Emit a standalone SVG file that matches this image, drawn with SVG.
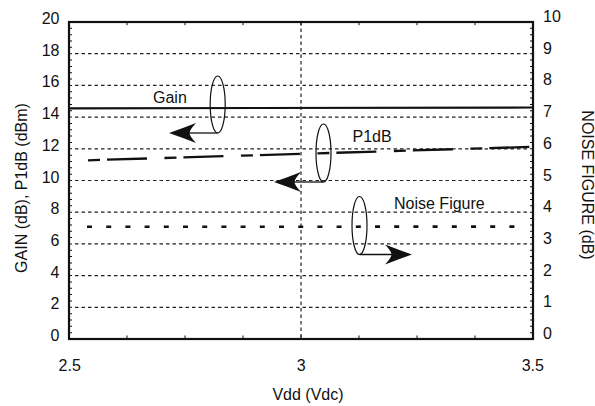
<svg xmlns="http://www.w3.org/2000/svg" width="595" height="406" viewBox="0 0 595 406">
<defs>
<style>
text{font-family:"Liberation Sans",Arial,Helvetica,sans-serif;font-size:16px;fill:#111}
.grid{stroke:#222;stroke-width:1.2;stroke-dasharray:3.5 3;fill:none}
.axis{stroke:#111;stroke-width:2.2;fill:none}
.tick{stroke:#111;stroke-width:3;fill:none}
.htick{stroke:#111;stroke-width:3.5;fill:none}
.ell{stroke:#111;stroke-width:1.2;fill:none}
.lead{stroke:#111;stroke-width:1.3;fill:none}
.l{text-anchor:end}
.m{text-anchor:middle}
</style>
<path id="arr" d="M0,0 Q13,-4.5 27,-10 Q20.5,-3 20.5,0 Q20.5,3 27,10 Q13,4.5 0,0Z" fill="#111"/>
</defs>
<rect width="595" height="406" fill="#fff"/>
<g id="grid">
<path class="grid" d="M75,53.7H530M75,85.4H530M75,117.1H530M75,148.8H530M75,180.5H530M75,212.2H530M75,243.9H530M75,275.6H530M75,307.3H530"/>
<path class="grid" d="M301,22V339"/>
</g>
<g id="axes">
<rect class="axis" x="69" y="22" width="464" height="317"/>
<path class="tick" d="M70.5,21.5V339.5" stroke-dasharray="1 5.34"/>
<path class="tick" d="M531.5,21.5V339.5" stroke-dasharray="1 5.34"/>
<path class="htick" d="M68.5,23.5H533.5M68.5,337.2H533.5" stroke-dasharray="1 57"/>
</g>
<g id="left-labels">
<text class="l" x="59.5" y="24">20</text>
<text class="l" x="59.5" y="55.7">18</text>
<text class="l" x="59.5" y="87.4">16</text>
<text class="l" x="59.5" y="119.1">14</text>
<text class="l" x="59.5" y="150.8">12</text>
<text class="l" x="59.5" y="182.5">10</text>
<text class="l" x="59.5" y="214.2">8</text>
<text class="l" x="59.5" y="245.9">6</text>
<text class="l" x="59.5" y="277.6">4</text>
<text class="l" x="59.5" y="309.3">2</text>
<text class="l" x="59.5" y="341">0</text>
</g>
<g id="right-labels">
<text x="543" y="22">10</text>
<text x="543" y="53.7">9</text>
<text x="543" y="85.4">8</text>
<text x="543" y="117.1">7</text>
<text x="543" y="148.8">6</text>
<text x="543" y="180.5">5</text>
<text x="543" y="212.2">4</text>
<text x="543" y="243.9">3</text>
<text x="543" y="275.6">2</text>
<text x="543" y="307.3">1</text>
<text x="543" y="339">0</text>
</g>
<g id="x-labels">
<text class="m" x="69.7" y="370.5">2.5</text>
<text class="m" x="301.3" y="370.5">3</text>
<text class="m" x="532.8" y="370.5">3.5</text>
<text class="m" x="308" y="399.5">Vdd (Vdc)</text>
</g>
<g id="axis-titles">
<text class="m" transform="translate(26.7,188) rotate(-90)" font-size="16.5">GAIN (dB), P1dB (dBm)</text>
<text class="m" transform="translate(581.5,185) rotate(90)">NOISE FIGURE (dB)</text>
</g>
<g id="gain">
<path d="M69,108.3L533,107.5" stroke="#111" stroke-width="2.2" fill="none"/>
<text x="153" y="102.7">Gain</text>
</g>
<g id="p1db">
<path d="M88,160.3L533,146.8" stroke="#111" stroke-width="2.3" fill="none" stroke-dasharray="12 7 40 17.5"/>
<text x="352.5" y="142.3">P1dB</text>
</g>
<g id="noise-figure">
<path d="M87,226.8L518,226.6" stroke="#111" stroke-width="2.6" fill="none" stroke-dasharray="5 14.2"/>
<text x="394" y="209.3">Noise Figure</text>
</g>
<g id="connectors">
<ellipse class="ell" cx="217.7" cy="104.5" rx="7.5" ry="28.5"/>
<path class="lead" d="M217.7,133H189"/>
<use href="#arr" transform="translate(169,133)"/>
<ellipse class="ell" cx="323.5" cy="153" rx="7.5" ry="29"/>
<path class="lead" d="M323.5,182H294"/>
<use href="#arr" transform="translate(274,182)"/>
<ellipse class="ell" cx="359.5" cy="225.5" rx="7.5" ry="29"/>
<path class="lead" d="M359.5,254.5H392"/>
<use href="#arr" transform="translate(412,254.5) scale(-1,1)"/>
</g>
</svg>
